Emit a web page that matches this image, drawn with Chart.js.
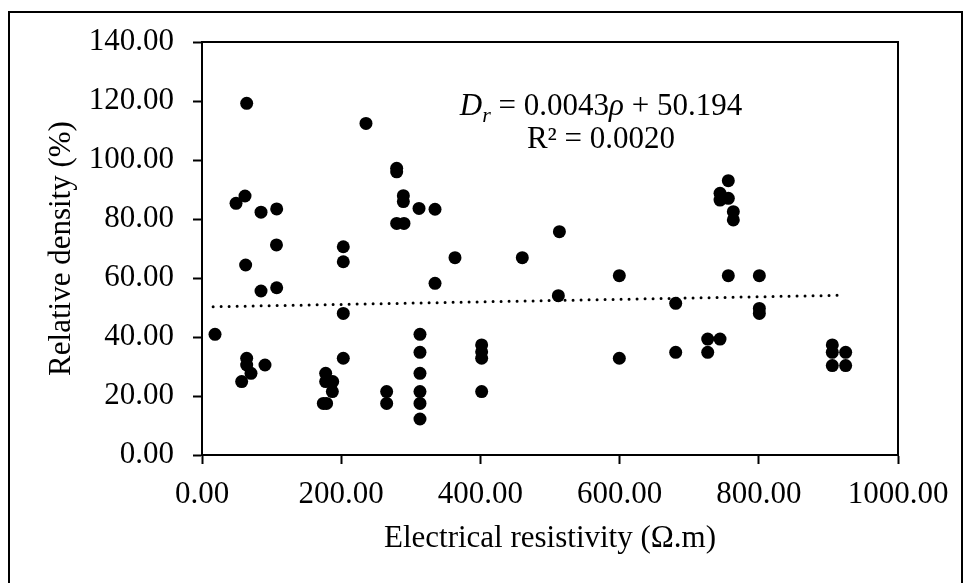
<!DOCTYPE html>
<html>
<head>
<meta charset="utf-8">
<script src="https://cdn.jsdelivr.net/npm/chart.js@4.4.0/dist/chart.umd.min.js"></script>
<style>
  html, body { margin: 0; padding: 0; background: #fff; }
  #wrap { width: 969px; height: 583px; }
</style>
</head>
<body>
<div id="wrap"><canvas id="chart" width="969" height="583"></canvas></div>
<script>
// values
const resistivity = [
    18.7, 48.9, 61.8, 64.2, 62.7, 64.2, 64.2, 70.4, 57.0, 84.8,
    84.8, 90.5, 107.3, 107.0, 107.3, 174.3, 179.0, 177.7, 177.7, 187.8,
    187.3, 203.0, 203.0, 203.0, 203.0, 235.6, 265.3, 265.3, 279.7, 279.7,
    279.7, 290.2, 289.3, 289.3, 311.8, 334.8, 334.8, 313.2, 313.2, 313.2,
    313.2, 313.2, 313.2, 363.5, 401.8, 401.8, 401.8, 401.8, 460.2, 513.5,
    512.0, 599.6, 599.6, 680.6, 680.6, 726.6, 744.3, 726.6, 756.2, 744.3,
    744.3, 756.2, 763.4, 763.4, 756.2, 800.8, 800.8, 800.8, 905.6, 905.6,
    905.6, 924.8, 924.8
];
const density = [
    40.9, 85.3, 87.8, 119.2, 64.4, 32.8, 30.5, 27.7, 24.9, 82.3,
    55.6, 30.5, 83.4, 71.2, 56.7, 17.5, 17.5, 27.7, 24.9, 24.9,
    21.5, 70.6, 65.5, 48.0, 32.8, 112.4, 21.5, 17.5, 97.2, 96.0,
    78.5, 78.5, 87.9, 85.9, 83.6, 83.3, 58.2, 40.9, 34.8, 27.7,
    21.5, 17.5, 12.2, 66.9, 37.3, 35.0, 32.8, 21.5, 66.9, 75.7,
    54.0, 60.8, 32.8, 51.4, 34.8, 39.3, 39.3, 34.8, 93.0, 88.7,
    86.4, 87.0, 82.5, 79.7, 60.8, 60.8, 49.7, 48.0, 37.3, 34.8,
    30.3, 34.8, 30.3
];
// linear trendline ends
const trendX = [16, 917];
const trendY = [50.26, 54.14];

const xTicks = [0, 200, 400, 600, 800, 1000];
const yTicks = [0, 20, 40, 60, 80, 100, 120, 140];

const serif = '"Liberation Serif", "Times New Roman", serif';
const fontSize = 31;

const pageFrame = {
    id: 'pageFrame',
    beforeDraw(chart) {
        const ctx = chart.ctx;
        ctx.save();
        ctx.fillStyle = '#fff';
        ctx.fillRect(0, 0, chart.width, chart.height);
        ctx.strokeStyle = '#000';
        ctx.lineWidth = 2;
        ctx.strokeRect(9, 12, 953, 640);
        ctx.restore();
    },
    beforeDatasetsDraw(chart) {
        const a = chart.chartArea;
        const ctx = chart.ctx;
        ctx.save();
        ctx.strokeStyle = '#000';
        ctx.lineWidth = 2;
        ctx.strokeRect(a.left, a.top, a.right - a.left, a.bottom - a.top);
        ctx.restore();
    }
};

const equation = {
    id: 'equation',
    afterDatasetsDraw(chart) {
        const ctx = chart.ctx;
        const regular = `${fontSize}px ${serif}`;
        const italic = `italic ${fontSize}px ${serif}`;
        const parts = [
            { t: 'D', f: italic, dy: 0 },
            { t: 'r', f: `italic 22px ${serif}`, dy: 7 },
            { t: ' = 0.0043', f: regular, dy: 0 },
            { t: 'ρ', f: italic, dy: 0 },
            { t: ' + 50.194', f: regular, dy: 0 }
        ];
        ctx.save();
        ctx.fillStyle = '#000';
        ctx.textBaseline = 'alphabetic';
        let total = 0;
        parts.forEach(p => { ctx.font = p.f; p.w = ctx.measureText(p.t).width; total += p.w; });
        let x = 601 - total / 2;
        parts.forEach(p => {
            ctx.font = p.f;
            ctx.fillText(p.t, x, 115 + p.dy);
            x += p.w;
        });
        ctx.font = regular;
        ctx.textAlign = 'center';
        ctx.fillText('R² = 0.0020', 601, 148);
        ctx.restore();
    }
};

new Chart(document.getElementById('chart'), {
    type: 'scatter',
    data: {
        datasets: [
            {
                label: 'data',
                data: resistivity.map((x, i) => ({ x: x, y: density[i] })),
                backgroundColor: '#000',
                borderWidth: 0,
                pointRadius: 6.5
            },
            {
                label: 'trend',
                data: trendX.map((x, i) => ({ x: x, y: trendY[i] })),
                showLine: true,
                pointRadius: 0,
                borderColor: '#000',
                borderWidth: 3,
                borderDash: [0, 8],
                borderCapStyle: 'round'
            }
        ]
    },
    options: {
        responsive: false,
        animation: false,
        layout: { padding: { left: 0, top: 42, right: 71, bottom: 0 } },
        plugins: {
            legend: { display: false },
            tooltip: { enabled: false }
        },
        scales: {
            x: {
                type: 'linear',
                min: 0,
                max: 1000,
                afterBuildTicks: s => { s.ticks = xTicks.map(v => ({ value: v })); },
                afterFit: s => { s.height = 128; },
                ticks: {
                    callback: v => v.toFixed(2),
                    color: '#000',
                    font: { family: serif, size: fontSize },
                    padding: 12,
                    maxRotation: 0
                },
                grid: { drawOnChartArea: false, drawTicks: true, tickLength: 9, tickWidth: 2, color: '#000' },
                border: { display: true, color: '#000', width: 2 },
                title: {
                    display: true,
                    text: 'Electrical resistivity (Ω.m)',
                    color: '#000',
                    font: { family: serif, size: fontSize },
                    padding: { top: 0, bottom: 26 }
                }
            },
            y: {
                type: 'linear',
                min: 0,
                max: 140,
                afterBuildTicks: s => { s.ticks = yTicks.map(v => ({ value: v })); },
                afterFit: s => { s.width = 202; },
                ticks: {
                    callback: v => v.toFixed(2),
                    color: '#000',
                    font: { family: serif, size: fontSize },
                    padding: 19
                },
                grid: { drawOnChartArea: false, drawTicks: true, tickLength: 9, tickWidth: 2, color: '#000' },
                border: { display: true, color: '#000', width: 2 },
                title: {
                    display: true,
                    text: 'Relative density (%)',
                    color: '#000',
                    font: { family: serif, size: fontSize },
                    padding: { top: 43, bottom: 0 }
                }
            }
        }
    },
    plugins: [pageFrame, equation]
});
</script>
</body>
</html>
